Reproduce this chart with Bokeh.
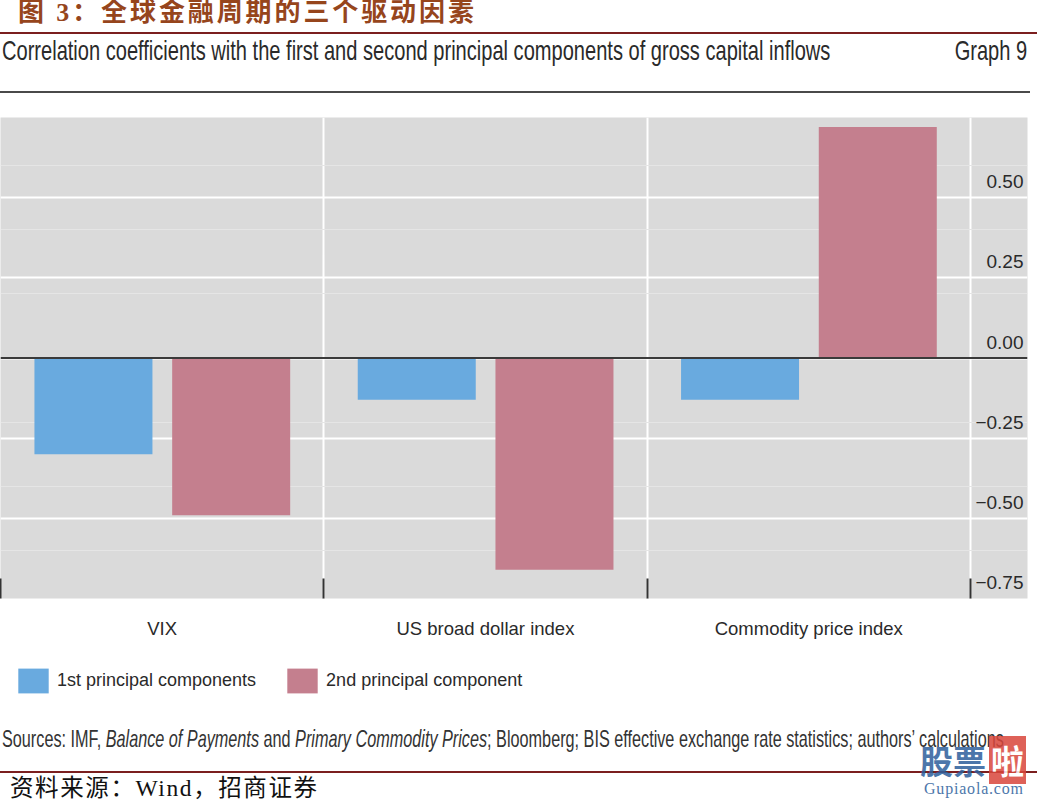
from bokeh.plotting import figure
from bokeh.models import (ColumnDataSource, Range1d, FixedTicker, Grid, Span,
                          Legend, LegendItem, Div)
from bokeh.layouts import column
from bokeh.transform import dodge
from bokeh.core.properties import value
from bokeh.embed import file_html
from bokeh.resources import INLINE
import numpy as np

# ---------------- data ----------------
categories = ["VIX", "US broad dollar index", "Commodity price index"]
first_pc = [-0.30, -0.13, -0.13]
second_pc = [-0.49, -0.66, 0.72]
series_names = ["1st principal components", "2nd principal component"]
y_ticks = [0.50, 0.25, 0.00, -0.25, -0.50, -0.75]
y_tick_labels = ["0.50", "0.25", "0.00", "\u22120.25", "\u22120.50", "\u22120.75"]

title_cn = "图 3：全球金融周期的三个驱动因素"
subtitle = "Correlation coefficients with the first and second principal components of gross capital inflows"
graph_no = "Graph 9"
source_cn = "资料来源：Wind，招商证券"

# ---------------- styles ----------------
BLUE = "#69aadf"
PINK = "#c47f8e"
GREY = "#dadada"
TXT = "#2a2a2a"
SANS = "Liberation Sans"
W = 1037
SX = 0.7167   # horizontal squeeze for the condensed look of the HTML texts

# ---------------- header ----------------
header_html = f"""
<div style="position:relative;width:{W}px;height:117px;overflow:visible;">
  <div style="position:absolute;left:18px;top:0px;font-family:'Liberation Serif','Noto Sans CJK SC';
       font-weight:bold;font-size:26px;line-height:26px;letter-spacing:2.9px;color:#96451c;
       white-space:nowrap;">{title_cn}</div>
  <div style="position:absolute;left:0px;top:32px;width:{W}px;height:2px;background:#7b1f1f;"></div>
  <div style="position:absolute;left:2px;top:37px;font-family:'{SANS}';font-size:28px;line-height:28px;
       color:{TXT};white-space:nowrap;transform:scaleX({SX});transform-origin:left top;">{subtitle}</div>
  <div style="position:absolute;right:10px;top:37px;font-family:'{SANS}';font-size:28px;line-height:28px;
       color:{TXT};white-space:nowrap;transform:scaleX({SX});transform-origin:right top;">{graph_no}</div>
  <div style="position:absolute;left:0px;top:91px;width:1030px;height:2px;background:#4a4a4a;"></div>
</div>
"""
header = Div(text=header_html, width=W, height=117, margin=(0, 0, 0, 0))

# ---------------- chart ----------------
pos = np.arange(len(categories)) + 0.5
src = ColumnDataSource(dict(x=pos, cat=categories, first=first_pc, second=second_pc))

p = figure(width=W, height=534,
           x_range=Range1d(0, 3.1766), y_range=Range1d(-0.75, 0.75),
           output_backend="svg", toolbar_location=None, y_axis_location=None,
           background_fill_color=GREY, border_fill_color="white",
           outline_line_color=None,
           min_border_left=0, min_border_right=10, min_border_top=0, min_border_bottom=53)

p.xgrid.ticker = FixedTicker(ticks=[1, 2, 3])
p.xgrid.grid_line_color = "white"
p.xgrid.grid_line_width = 2

p.add_layout(Grid(dimension=1, ticker=FixedTicker(ticks=y_ticks),
                  grid_line_color="white", grid_line_width=2))

r1 = p.vbar(x=dodge("x", -0.2125, range=p.x_range), top="first", bottom=0, width=0.365,
            source=src, fill_color=BLUE, line_color=None)
r2 = p.vbar(x=dodge("x", 0.2135, range=p.x_range), top="second", bottom=0, width=0.365,
            source=src, fill_color=PINK, line_color=None)

p.add_layout(Span(location=0, dimension="width", line_color="#3a3a3a", line_width=2))

ysrc = ColumnDataSource(dict(x=[p.x_range.end] * len(y_ticks), y=y_ticks, t=y_tick_labels))
p.text(x="x", y="y", text="t", source=ysrc, text_align="right", text_baseline="alphabetic",
       x_offset=-4, y_offset=-16, text_font=value(SANS), text_font_size="19px", text_color=TXT)

ax = p.xaxis[0]
ax.ticker = FixedTicker(ticks=list(pos), minor_ticks=[0, 1, 2, 3])
ax.major_label_overrides = {float(x): c for x, c in zip(pos, categories)}
ax.axis_line_color = None
ax.major_tick_line_color = None
ax.minor_tick_line_color = "#333333"
ax.minor_tick_line_width = 2
ax.minor_tick_in = 20
ax.minor_tick_out = 0
ax.major_label_standoff = 13
ax.major_label_text_font = SANS
ax.major_label_text_font_size = "18.5px"
ax.major_label_text_color = TXT

# ---------------- legend (own strip) ----------------
# same series drawn in a strip whose ranges lie far beyond the bars, so only the legend shows
lf = figure(width=W, height=55, x_range=Range1d(10, 11), y_range=Range1d(10, 11),
            output_backend="svg", toolbar_location=None,
            x_axis_location=None, y_axis_location=None, outline_line_color=None,
            min_border_left=0, min_border_right=0, min_border_top=0, min_border_bottom=0)
lf.xgrid.visible = False
lf.ygrid.visible = False
k1 = lf.vbar(x="x", top="first", width=0.365, source=src, fill_color=BLUE, line_color=None)
k2 = lf.vbar(x="x", top="second", width=0.365, source=src, fill_color=PINK, line_color=None)
legend = Legend(items=[LegendItem(label=series_names[0], renderers=[k1]),
                       LegendItem(label=series_names[1], renderers=[k2])],
                orientation="horizontal", location="top_left",
                glyph_width=38, glyph_height=31, label_standoff=5, spacing=27,
                label_text_font=SANS, label_text_font_size="18px", label_text_color=TXT,
                padding=0, margin=14, border_line_color=None, background_fill_alpha=0)
lf.add_layout(legend)

# ---------------- footer ----------------
footer_html = f"""
<div style="position:relative;width:{W}px;height:94px;overflow:visible;">
  <div style="position:absolute;left:2px;top:21px;font-family:'{SANS}';font-size:24px;line-height:24px;
       color:#333;white-space:nowrap;transform:scaleX(0.676);transform-origin:left top;">Sources: IMF,
       <i>Balance of Payments</i> and <i>Primary Commodity Prices</i>; Bloomberg; BIS effective
       exchange rate statistics; authors’ calculations</div>
  <div style="position:absolute;left:0px;top:65px;width:{W}px;height:1.5px;background:#7b1f1f;"></div>
  <div style="position:absolute;left:10px;top:70px;font-family:'Liberation Serif','Noto Sans CJK SC';
       font-size:23.5px;line-height:24px;letter-spacing:1.6px;color:#111;white-space:nowrap;">{source_cn}</div>
  <div style="position:absolute;left:920px;top:36px;font-family:'Noto Sans CJK SC';font-weight:bold;
       font-size:33px;line-height:36px;color:#2d5f9c;opacity:0.85;white-space:nowrap;">股票<span
       style="background:#d9463b;color:white;padding:0 2px;margin-left:3px;">啦</span></div>
  <div style="position:absolute;left:924px;top:74px;font-family:'Liberation Serif';font-size:16px;
       line-height:18px;letter-spacing:0.8px;color:#2d5f9c;opacity:0.85;white-space:nowrap;">Gupiaola.com</div>
</div>
"""
footer = Div(text=footer_html, width=W, height=94, margin=(0, 0, 0, 0))

layout = column(header, p, lf, footer, spacing=0)
open("out.html", "w").write(file_html(layout, INLINE))
